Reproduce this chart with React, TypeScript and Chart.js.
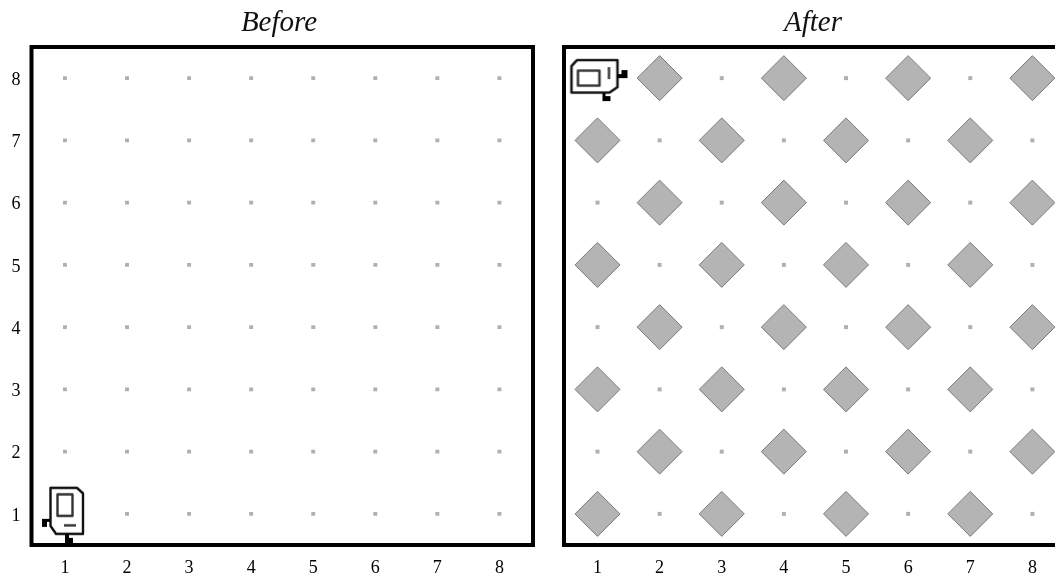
import React, { useEffect, useRef } from "react";
import { Chart, registerables } from "chart.js";

Chart.register(...registerables);

const tickLabels = [1, 2, 3, 4, 5, 6, 7, 8];
const rowValues = [8, 7, 6, 5, 4, 3, 2, 1];

const beforeTitle = "Before";
const afterTitle = "After";

// One list of column numbers per row, top row (8) first.
const beforeDotColumns = [
  [1, 2, 3, 4, 5, 6, 7, 8],
  [1, 2, 3, 4, 5, 6, 7, 8],
  [1, 2, 3, 4, 5, 6, 7, 8],
  [1, 2, 3, 4, 5, 6, 7, 8],
  [1, 2, 3, 4, 5, 6, 7, 8],
  [1, 2, 3, 4, 5, 6, 7, 8],
  [1, 2, 3, 4, 5, 6, 7, 8],
  [2, 3, 4, 5, 6, 7, 8],
];
const afterDotColumns = [
  [3, 5, 7],
  [2, 4, 6, 8],
  [1, 3, 5, 7],
  [2, 4, 6, 8],
  [1, 3, 5, 7],
  [2, 4, 6, 8],
  [1, 3, 5, 7],
  [2, 4, 6, 8],
];
const afterDiamondColumns = [
  [2, 4, 6, 8],
  [1, 3, 5, 7],
  [2, 4, 6, 8],
  [1, 3, 5, 7],
  [2, 4, 6, 8],
  [1, 3, 5, 7],
  [2, 4, 6, 8],
  [1, 3, 5, 7],
];
const beforeRobot = [{ x: 1, y: 1 }];
const afterRobot = [{ x: 1, y: 8 }];

const toPoints = (columns: number[][]) =>
  columns.flatMap((cols, i) => cols.map((x) => ({ x, y: rowValues[i] })));

function makeRobotIcon(): HTMLCanvasElement {
  const S = 70;
  const c = document.createElement("canvas");
  c.width = S;
  c.height = S;
  const g = c.getContext("2d")!;
  g.translate(S / 2, S / 2);
  g.strokeStyle = "#111";
  g.fillStyle = "#fff";
  g.lineWidth = 2.4;
  g.lineJoin = "round";
  g.beginPath();
  g.moveTo(-14.5, -26);
  g.lineTo(12, -26);
  g.lineTo(18, -20.5);
  g.lineTo(18, 20);
  g.lineTo(-9, 20);
  g.lineTo(-14.5, 12);
  g.closePath();
  g.fill();
  g.stroke();
  g.strokeStyle = "#333";
  g.strokeRect(-7.5, -19.5, 15, 21.5);
  g.beginPath();
  g.moveTo(-1, 11.5);
  g.lineTo(11, 11.5);
  g.stroke();
  g.fillStyle = "#000";
  g.beginPath();
  g.moveTo(-23, 5);
  g.lineTo(-15, 5);
  g.lineTo(-15, 8);
  g.lineTo(-18, 8);
  g.lineTo(-18, 13);
  g.lineTo(-23, 13);
  g.closePath();
  g.fill();
  g.beginPath();
  g.moveTo(0, 20);
  g.lineTo(4, 20);
  g.lineTo(4, 24);
  g.lineTo(8, 24);
  g.lineTo(8, 30);
  g.lineTo(0, 30);
  g.closePath();
  g.fill();
  return c;
}

const framePlugin = {
  id: "frame",
  afterDatasetsDraw(chart: any) {
    const { ctx, chartArea: a } = chart;
    ctx.save();
    ctx.strokeStyle = "#000";
    ctx.lineWidth = 4;
    ctx.strokeRect(a.left, a.top, a.right - a.left, a.bottom - a.top);
    ctx.restore();
  },
};

function buildConfig(
  title: string,
  showY: boolean,
  datasets: any[],
  spacerWidth: number,
  yWidth: number
): any {
  return {
    type: "scatter",
    data: { datasets },
    plugins: [framePlugin],
    options: {
      animation: false,
      responsive: false,
      layout: { autoPadding: false, padding: 0 },
      plugins: {
        legend: { display: false },
        tooltip: { enabled: false },
        title: {
          display: true,
          text: title,
          color: "#111",
          font: { family: "'Liberation Serif'", style: "italic", size: 29, weight: "normal" },
          padding: { top: 6, bottom: 6.2 },
        },
      },
      scales: {
        x: {
          type: "linear",
          min: 0.461,
          max: 8.541,
          grid: { display: false, drawTicks: false },
          border: { display: false },
          afterBuildTicks: (s: any) => {
            s.ticks = tickLabels.map((value) => ({ value }));
          },
          afterFit: (s: any) => {
            s.height = 34;
            s.paddingLeft = 0;
            s.paddingRight = 0;
          },
          ticks: {
            color: "#000",
            padding: 12,
            maxRotation: 0,
            autoSkip: false,
            font: { family: "'Liberation Serif'", size: 18 },
          },
        },
        y: {
          type: "linear",
          min: 0.5,
          max: 8.5,
          grid: { display: false, drawTicks: false },
          border: { display: false },
          afterBuildTicks: (s: any) => {
            s.ticks = tickLabels.map((value) => ({ value }));
          },
          afterFit: (s: any) => {
            s.width = yWidth;
            s.paddingTop = 0;
            s.paddingBottom = 0;
          },
          ticks: {
            display: showY,
            color: "#000",
            padding: 11,
            labelOffset: 2,
            autoSkip: false,
            font: { family: "'Liberation Serif'", size: 18 },
          },
        },
        spacer: {
          type: "linear",
          position: "right",
          min: 0,
          max: 1,
          grid: { display: false, drawTicks: false },
          border: { display: false },
          ticks: { display: false },
          afterFit: (s: any) => {
            s.width = spacerWidth;
            s.paddingTop = 0;
            s.paddingBottom = 0;
          },
        },
      },
    },
  };
}

const dotSet = (data: any[]) => ({
  data,
  pointStyle: "rect",
  pointRadius: 2.8,
  pointBorderWidth: 0,
  pointBackgroundColor: "#b0b0b0",
});

const blur = "blur(0.7px)";

export default function App() {
  const leftRef = useRef<HTMLCanvasElement>(null);
  const rightRef = useRef<HTMLCanvasElement>(null);

  useEffect(() => {
    const icon = makeRobotIcon();
    const robotSet = (data: any[], rotation: number) => ({
      data,
      pointStyle: icon,
      pointRadius: 35,
      pointRotation: rotation,
      clip: false,
    });
    const left = new Chart(
      leftRef.current!,
      buildConfig(beforeTitle, true, [dotSet(toPoints(beforeDotColumns)), robotSet(beforeRobot, 0)], 25, 31.5)
    );
    const right = new Chart(
      rightRef.current!,
      buildConfig(
        afterTitle,
        false,
        [
          dotSet(toPoints(afterDotColumns)),
          {
            data: toPoints(afterDiamondColumns),
            pointStyle: "rectRot",
            pointRadius: 22.5,
            pointBorderWidth: 1,
            pointBackgroundColor: "#b4b4b4",
            pointBorderColor: "#7a7a7a",
          },
          robotSet(afterRobot, -90),
        ],
        28,
        32
      )
    );
    return () => {
      left.destroy();
      right.destroy();
    };
  }, []);

  return (
    <div style={{ position: "fixed", left: 0, top: 0, width: 1055, height: 579, overflow: "hidden", background: "#fff" }}>
      <canvas
        ref={leftRef}
        width={558}
        height={579}
        style={{ position: "absolute", left: 0, top: 0, width: 558, height: 579, filter: blur }}
      />
      <canvas
        ref={rightRef}
        width={562}
        height={579}
        style={{ position: "absolute", left: 532, top: 0, width: 562, height: 579, filter: blur }}
      />
    </div>
  );
}
